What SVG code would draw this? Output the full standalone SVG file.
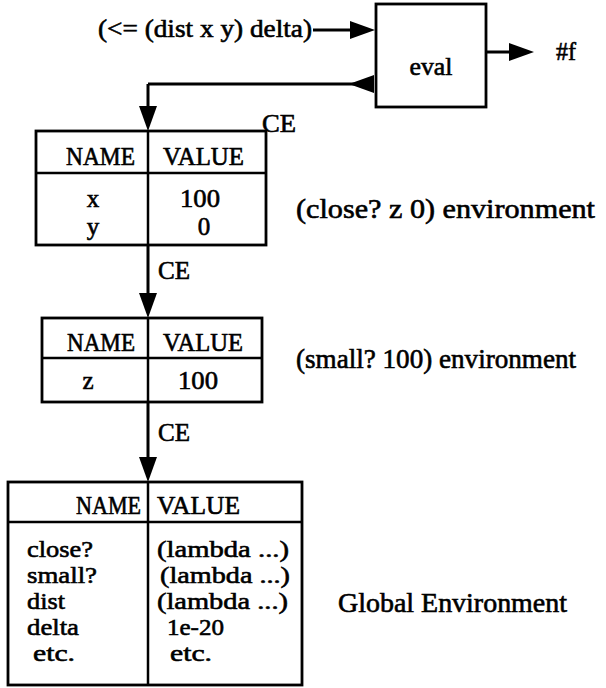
<svg xmlns="http://www.w3.org/2000/svg" width="606" height="688" viewBox="0 0 606 688">
  <style>
    text { font-family: "Liberation Serif", "Times New Roman", serif; font-size: 25px; fill: #000; stroke: #000; stroke-width: 0.6; }
    .label { font-size: 27px; }
    .row { font-size: 24px; }
    .box { fill: #fff; stroke: #000; stroke-width: 2.8; }
    .rule { stroke: #000; stroke-width: 2.5; fill: none; }
    .wire { stroke: #000; stroke-width: 3; fill: none; }
    .mid { text-anchor: middle; }
  </style>
  <defs>
    <!-- filled arrowhead; the tip sits 12px past the end of the wire -->
    <marker id="head" viewBox="0 0 25 18" refX="13" refY="9" markerWidth="25" markerHeight="18" markerUnits="userSpaceOnUse" orient="auto">
      <path d="M0,0 L25,9 L0,18 Z" fill="#000"/>
    </marker>
  </defs>

  <!-- evaluator -->
  <g id="eval">
    <rect class="box" x="376" y="4" width="110" height="103"/>
    <text class="mid" x="431" y="75" textLength="43" lengthAdjust="spacingAndGlyphs">eval</text>
  </g>

  <g id="expression">
    <text x="98" y="37" textLength="214" lengthAdjust="spacingAndGlyphs">(&lt;= (dist x y) delta)</text>
  </g>

  <g id="result">
    <text x="556" y="60" textLength="20" lengthAdjust="spacingAndGlyphs">#f</text>
  </g>

  <!-- environment of (close? z 0) -->
  <g id="env-close">
    <rect class="box" x="36" y="131" width="230" height="114"/>
    <line class="rule" x1="36" y1="173" x2="266" y2="173"/>
    <line class="rule" x1="148" y1="131" x2="148" y2="245"/>
    <text x="66" y="165" textLength="69" lengthAdjust="spacingAndGlyphs">NAME</text>
    <text x="163" y="165" textLength="81" lengthAdjust="spacingAndGlyphs">VALUE</text>
    <text class="mid" x="93" y="207">x</text>
    <text x="180" y="207" textLength="40" lengthAdjust="spacingAndGlyphs">100</text>
    <text class="mid" x="93" y="235">y</text>
    <text class="mid" x="204" y="235">0</text>
    <text class="label" x="296" y="218" textLength="299" lengthAdjust="spacingAndGlyphs">(close? z 0) environment</text>
  </g>

  <!-- environment of (small? 100) -->
  <g id="env-small">
    <rect class="box" x="42" y="318" width="220" height="84"/>
    <line class="rule" x1="42" y1="358" x2="262" y2="358"/>
    <line class="rule" x1="148" y1="318" x2="148" y2="402"/>
    <text x="67" y="351" textLength="68" lengthAdjust="spacingAndGlyphs">NAME</text>
    <text x="163" y="351" textLength="80" lengthAdjust="spacingAndGlyphs">VALUE</text>
    <text class="mid" x="88" y="389">z</text>
    <text x="178" y="389" textLength="40" lengthAdjust="spacingAndGlyphs">100</text>
    <text class="label" x="296" y="368" textLength="280" lengthAdjust="spacingAndGlyphs">(small? 100) environment</text>
  </g>

  <!-- global environment -->
  <g id="env-global">
    <rect class="box" x="8" y="482" width="294" height="203"/>
    <line class="rule" x1="8" y1="522" x2="302" y2="522"/>
    <line class="rule" x1="148" y1="482" x2="148" y2="685"/>
    <text x="76" y="514" textLength="65" lengthAdjust="spacingAndGlyphs">NAME</text>
    <text x="157" y="514" textLength="83" lengthAdjust="spacingAndGlyphs">VALUE</text>
    <text class="row" x="27" y="557" textLength="66" lengthAdjust="spacingAndGlyphs">close?</text>
    <text class="row" x="27" y="583" textLength="70" lengthAdjust="spacingAndGlyphs">small?</text>
    <text class="row" x="27" y="609" textLength="38" lengthAdjust="spacingAndGlyphs">dist</text>
    <text class="row" x="27" y="635" textLength="52" lengthAdjust="spacingAndGlyphs">delta</text>
    <text class="row" x="33" y="661" textLength="42" lengthAdjust="spacingAndGlyphs">etc.</text>
    <text class="row" x="157" y="557" textLength="132" lengthAdjust="spacingAndGlyphs">(lambda ...)</text>
    <text class="row" x="160" y="583" textLength="130" lengthAdjust="spacingAndGlyphs">(lambda ...)</text>
    <text class="row" x="157" y="609" textLength="131" lengthAdjust="spacingAndGlyphs">(lambda ...)</text>
    <text class="row" x="167" y="635" textLength="57" lengthAdjust="spacingAndGlyphs">1e-20</text>
    <text class="row" x="170" y="661" textLength="42" lengthAdjust="spacingAndGlyphs">etc.</text>
    <text class="label" x="338" y="612" textLength="229" lengthAdjust="spacingAndGlyphs">Global Environment</text>
  </g>

  <!-- connectors -->
  <g id="connectors">
    <line class="wire" x1="313" y1="30" x2="363" y2="30" marker-end="url(#head)"/>
    <line class="wire" x1="486" y1="52" x2="522" y2="52" marker-end="url(#head)"/>
    <line class="wire" x1="361" y1="84" x2="148" y2="84" marker-start="url(#head)"/>
    <line class="wire" x1="148" y1="84" x2="148" y2="119" marker-end="url(#head)"/>
    <line class="wire" x1="148" y1="245" x2="148" y2="306" marker-end="url(#head)"/>
    <line class="wire" x1="148" y1="402" x2="148" y2="470" marker-end="url(#head)"/>
    <text x="262" y="132" textLength="34" lengthAdjust="spacingAndGlyphs">CE</text>
    <text x="158" y="279" textLength="32" lengthAdjust="spacingAndGlyphs">CE</text>
    <text x="158" y="441" textLength="32" lengthAdjust="spacingAndGlyphs">CE</text>
  </g>
</svg>
